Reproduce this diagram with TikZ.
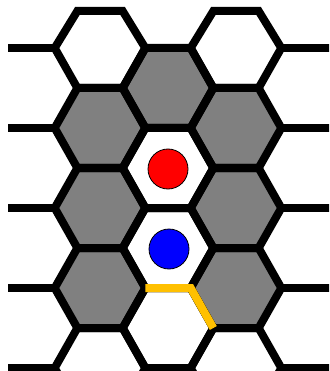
\documentclass[tikz,border=0pt]{standalone}
\usetikzlibrary{positioning}
\definecolor{cgray}{RGB}{128,128,128}
\definecolor{cyellow}{RGB}{255,192,0}

\begin{document}
\begin{tikzpicture}[
    x=1pt, y=-1pt,
    cell/.style={draw=black, line width=8pt, line join=miter},
    stub/.style={draw=black, line width=8pt},
    token/.style={circle, draw=black, fill=#1, line width=0.8pt,
        minimum size=40pt, inner sep=0pt},
    trail/.style={draw=cyellow, line width=8pt, line join=miter}
]
\def\R{45.3}
\def\a{22.65}
\def\h{40}

\useasboundingbox (0,0) rectangle (329,371);
\clip (0,0) rectangle (329,371);

%% Board cells: centre x / centre y / upper half-height / fill
\def\cells{100/48/37/white, 100/128/40/cgray, 100/208/40/cgray, 100/288/40/cgray, 100/368/40/white,
           168/88/40/cgray, 168/168/40/white, 168/248/40/white, 168/328/40/white,
           236/48/37/white, 236/128/40/cgray, 236/208/40/cgray, 236/288/40/cgray, 236/368/40/white}

\foreach \cx/\cy/\ct/\cf in \cells
    \fill[\cf] ({\cx+\R},\cy) -- ({\cx+\a},{\cy+\h}) -- ({\cx-\a},{\cy+\h})
        -- ({\cx-\R},\cy) -- ({\cx-\a},{\cy-\ct}) -- ({\cx+\a},{\cy-\ct}) -- cycle;

\foreach \cx/\cy/\ct/\cf in \cells
    \draw[cell] ({\cx+\R},\cy) -- ({\cx+\a},{\cy+\h}) -- ({\cx-\a},{\cy+\h})
        -- ({\cx-\R},\cy) -- ({\cx-\a},{\cy-\ct}) -- ({\cx+\a},{\cy-\ct}) -- cycle;

%% Edge stubs of the cut-off outer columns
\foreach \sy in {48,128,208,288,368} {
    \draw[stub] (8,\sy) -- (54.7,\sy);
    \draw[stub] (281.3,\sy) -- (335,\sy);
}

%% Stones
\node[token=red]  (redstone)  at (168,169) {};
\node[token=blue] (bluestone) at (169,249) {};

%% Highlighted edges below the blue stone
\coordinate (t1) at (145.3,288);
\coordinate (t2) at (190.7,288);
\coordinate (t3) at (213.3,328);
\draw[trail] (t1) -- (t2) -- (t3);

\end{tikzpicture}
\end{document}
